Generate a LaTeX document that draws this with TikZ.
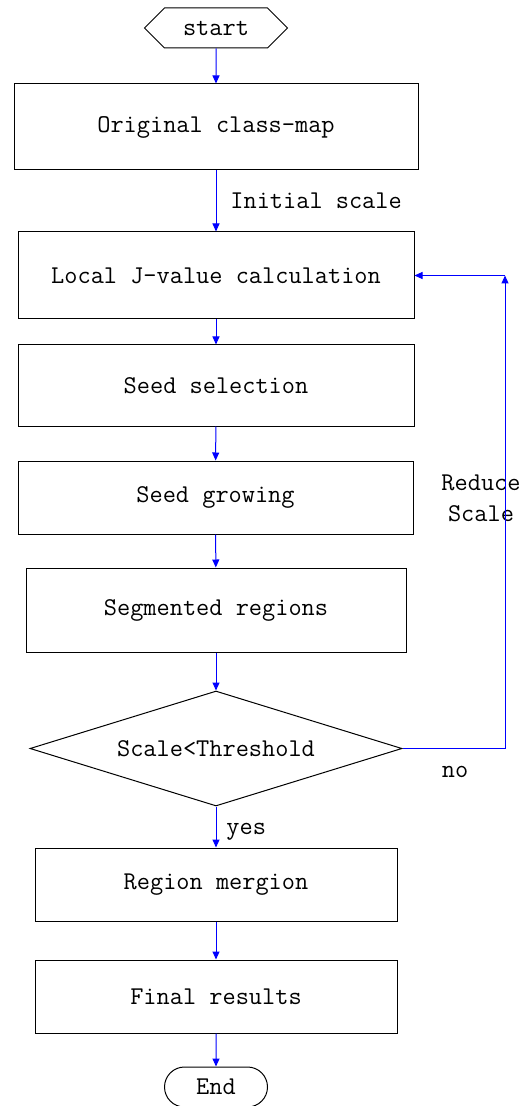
\documentclass[tikz,border=0pt]{standalone}
\usepackage{tikz}
\usetikzlibrary{shapes.geometric,shapes.symbols,shapes.misc,arrows.meta}

\begin{document}
\begin{tikzpicture}[x=0.5pt, y=-0.5pt,
  every node/.style={font=\ttfamily\fontsize{12.8pt}{15.5pt}\selectfont, text=black},
  proc/.style={rectangle, draw=black, line width=0.5pt, inner sep=0pt},
  term/.style={signal, signal to=west and east, draw=black, line width=0.5pt,
               inner sep=0pt, minimum width=71.5pt, minimum height=20pt},
  stopbox/.style={rounded rectangle, draw=black, line width=0.5pt,
                  inner sep=0pt, minimum width=51.5pt, minimum height=20pt},
  test/.style={diamond, aspect=3.2, draw=black, line width=0.5pt, inner sep=0pt,
               minimum width=186pt, minimum height=57.5pt},
  lbl/.style={inner sep=0pt},
  arr/.style={-{Triangle[length=4pt,width=3.5pt]}, blue, line width=0.5pt}
]
  \useasboundingbox (0,0) rectangle (529,1106);

  \node[term]    (start) at (216.0,  28.0) {start};
  \node[proc, minimum width=202pt,   minimum height=43pt]   (orig) at (216.0, 127.0) {Original class-map};
  \node[proc, minimum width=198pt,   minimum height=43.5pt] (jval) at (216.0, 275.5) {Local J-value calculation};
  \node[proc, minimum width=198pt,   minimum height=40.5pt] (sel)  at (216.0, 385.5) {Seed selection};
  \node[proc, minimum width=197.5pt, minimum height=36.5pt] (grow) at (215.5, 497.5) {Seed growing};
  \node[proc, minimum width=190pt,   minimum height=42pt]   (seg)  at (216.0, 610.0) {Segmented regions};
  \node[test]    (thr)  at (216.0, 748.5) {Scale<Threshold};
  \node[proc, minimum width=181pt,   minimum height=36.5pt] (merg) at (216.0, 884.5) {Region mergion};
  \node[proc, minimum width=181pt,   minimum height=36.5pt] (fin)  at (216.0, 996.5) {Final results};
  \node[stopbox] (stop) at (216.0,1087.0) {End};

  \node[lbl, anchor=west] (init) at (230, 201) {Initial scale};
  \node[lbl, anchor=west] (yes)  at (226, 832) {yes};
  \node[lbl] (no)  at (455, 772) {no};
  \node[lbl, align=center] (red) at (481, 498) {Reduce\\Scale};

  \coordinate (back) at (505, 275.5);

  \draw[arr] (start) -- (orig);
  \draw[arr] (orig) -- (jval);
  \draw[arr] (jval) -- (sel);
  \draw[arr] (sel) -- (grow);
  \draw[arr] (grow) -- (seg);
  \draw[arr] (seg) -- (thr);
  \draw[arr] (thr) -- (merg);
  \draw[arr] (merg) -- (fin);
  \draw[arr] (fin) -- (stop);
  \draw[arr] (thr.east) -| (back);
  \draw[arr] (back) -- (jval.east);
\end{tikzpicture}
\end{document}
